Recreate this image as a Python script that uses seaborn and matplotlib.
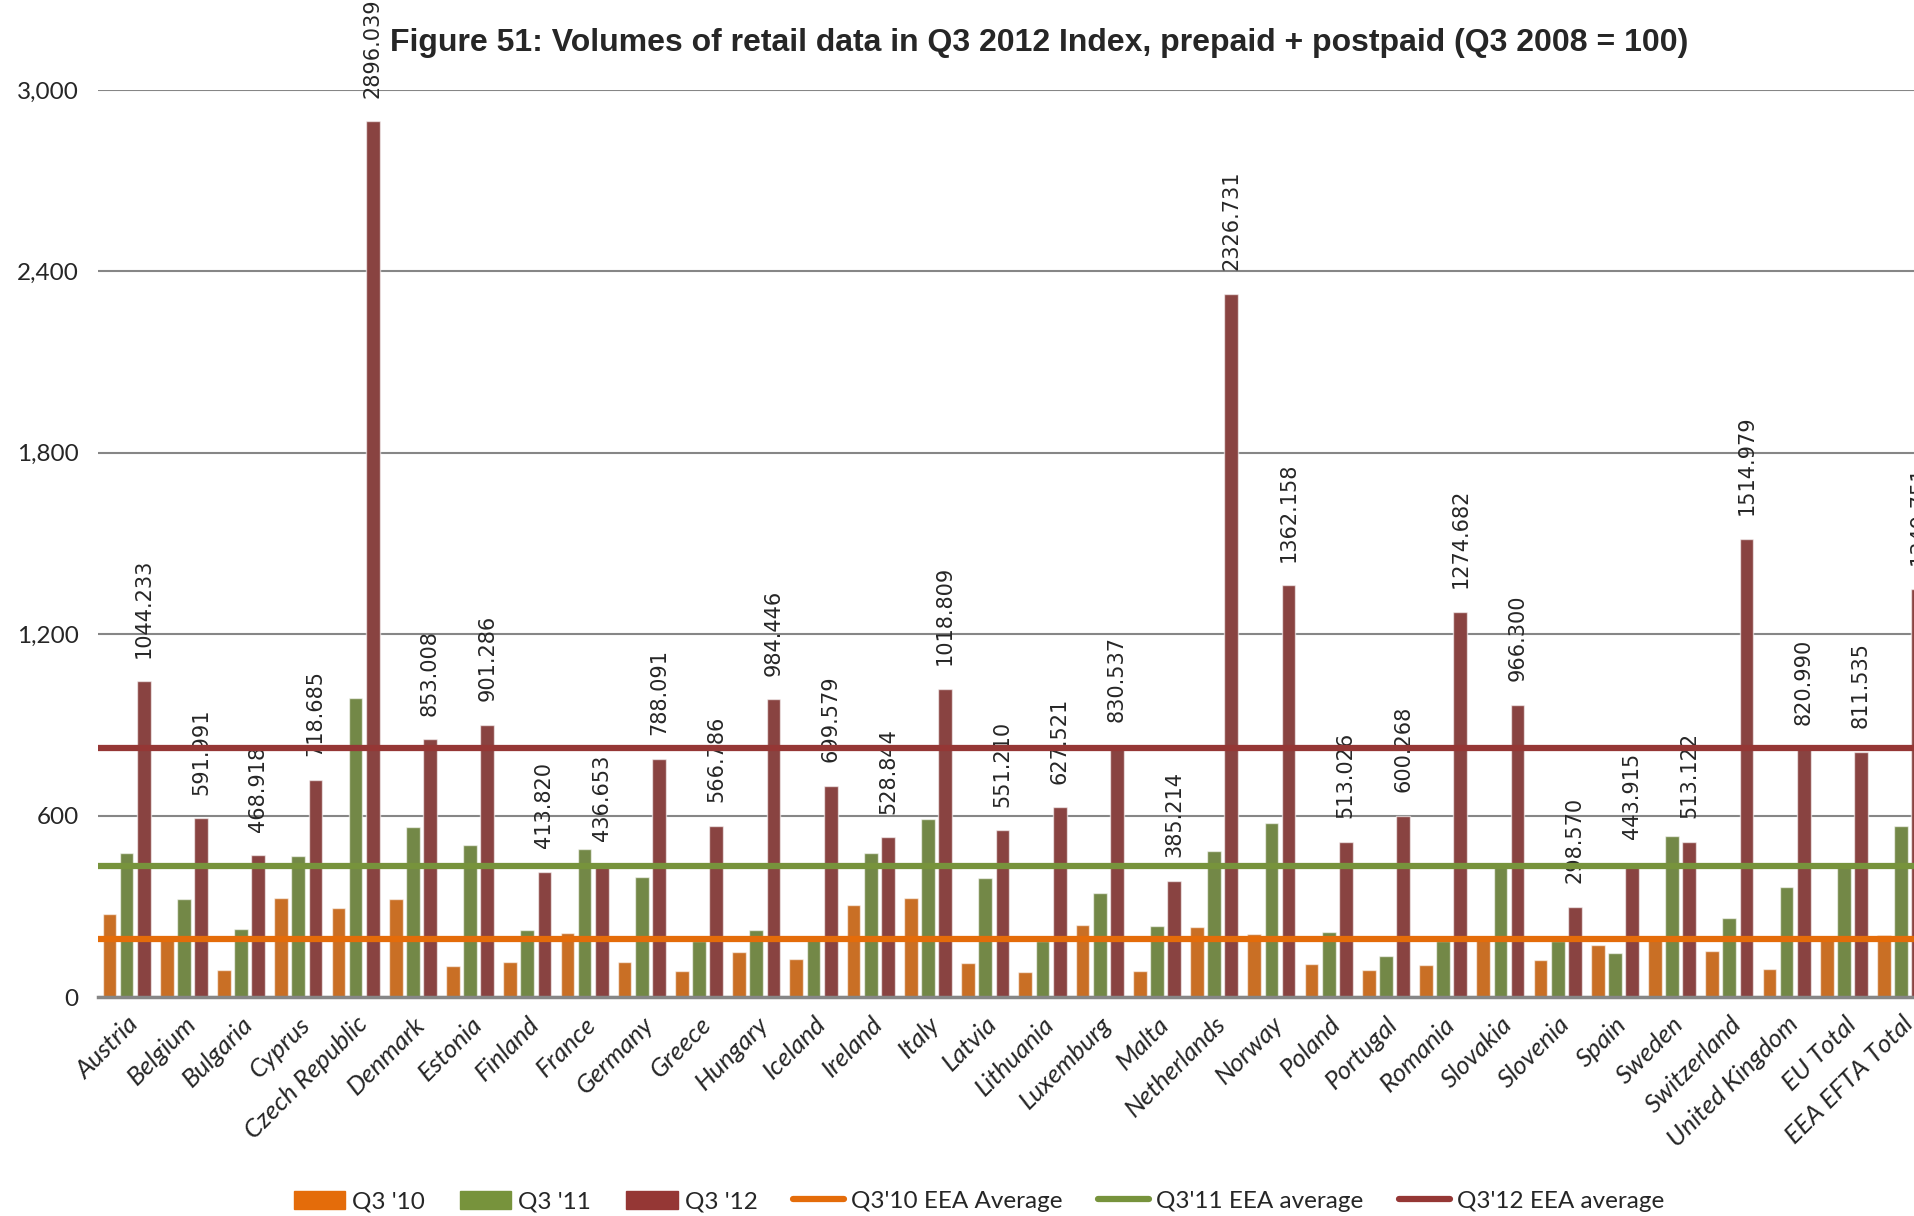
import pandas as pd
import matplotlib.pyplot as plt
import matplotlib.patches as mpatches
import matplotlib.lines as mlines
from matplotlib.ticker import FuncFormatter
import seaborn as sns

# Data (Q3 2008 = 100)
countries = ["Austria", "Belgium", "Bulgaria", "Cyprus", "Czech Republic", "Denmark",
             "Estonia", "Finland", "France", "Germany", "Greece", "Hungary", "Iceland",
             "Ireland", "Italy", "Latvia", "Lithuania", "Luxemburg", "Malta",
             "Netherlands", "Norway", "Poland", "Portugal", "Romania", "Slovakia",
             "Slovenia", "Spain", "Sweden", "Switzerland", "United Kingdom",
             "EU Total", "EEA EFTA Total"]
q3_10 = [275, 195, 90, 327, 294, 324, 102, 116, 213, 117, 85, 149, 126, 303, 329,
         113, 82, 239, 87, 231, 208, 110, 91, 106, 201, 123, 172, 191, 152, 92,
         191, 207]
q3_11 = [475, 323, 224, 466, 989, 561, 504, 222, 490, 396, 185, 223, 188, 476, 589,
         394, 185, 343, 234, 484, 575, 214, 136, 186, 434, 186, 145, 534, 261, 364,
         434, 567]
q3_12 = [1044.233, 591.991, 468.918, 718.685, 2896.039, 853.008, 901.286, 413.820,
         436.653, 788.091, 566.786, 984.446, 699.579, 528.844, 1018.809, 551.210,
         627.521, 830.537, 385.214, 2326.731, 1362.158, 513.026, 600.268, 1274.682,
         966.300, 298.570, 443.915, 513.122, 1514.979, 820.990, 811.535, 1349.751]
averages = [191, 434, 824]

series = ["Q3 '10", "Q3 '11", "Q3 '12"]
avg_labels = ["Q3'10 EEA Average", "Q3'11 EEA average", "Q3'12 EEA average"]
colors = ["#E46C0A", "#77933C", "#953735"]
y_ticks = [0, 600, 1200, 1800, 2400, 3000]
title = "Figure 51: Volumes of retail data in Q3 2012 Index, prepaid + postpaid (Q3 2008 = 100)"

# long table for seaborn
df = pd.DataFrame({
    "country": countries * 3,
    "series": [s for s in series for _ in countries],
    "value": q3_10 + q3_11 + q3_12,
})

sns.set_style("white")
plt.rcParams["font.family"] = ["Lato", "DejaVu Sans"]

fig = plt.figure(figsize=(19.14, 12.16), dpi=100)
ax = fig.add_axes([0.0512, 0.180, 0.957, 0.746])

sns.barplot(data=df, x="country", y="value", hue="series", palette=colors,
            width=0.9, gap=0.2, edgecolor=(1, 1, 1, 0.6), linewidth=1,
            legend=False, ax=ax, zorder=2)

# EEA average lines on top of the bars
for val, col in zip(averages, colors):
    ax.axhline(val, color=col, lw=4.5, zorder=4, solid_capstyle="butt")

# value labels above the Q3 '12 bars
for bar, v in zip(ax.containers[2], q3_12):
    ax.annotate(f"{v:.3f}", (bar.get_x() + bar.get_width() / 2, bar.get_height()),
                xytext=(0, 17), textcoords="offset points", rotation=90,
                ha="center", va="bottom", fontsize=15, family="DejaVu Sans",
                annotation_clip=False)

ax.set_xlim(-0.5, len(countries) - 0.5)
ax.set_ylim(0, 3000)
ax.set_yticks(y_ticks)
ax.yaxis.set_major_formatter(FuncFormatter(lambda v, p: f"{v:,.0f}"))
ax.grid(axis="y", color="#868686", lw=1.5, zorder=0)
ax.set_axisbelow(True)
for s in ["top", "right", "left"]:
    ax.spines[s].set_visible(False)
ax.spines["bottom"].set_color("#868686")
ax.spines["bottom"].set_linewidth(2.5)
ax.spines["bottom"].set_zorder(5)
ax.set_xlabel("")
ax.set_ylabel("")
ax.tick_params(axis="both", length=0)
ax.tick_params(axis="y", pad=14, labelsize=17.5)
ax.tick_params(axis="x", pad=11, labelsize=18.5)
for lab in ax.get_xticklabels():
    lab.set_rotation(45)
    lab.set_ha("right")
    lab.set_va("top")
    lab.set_rotation_mode("anchor")
    lab.set_style("italic")

fig.text(0.543, 0.965, title, ha="center", va="center", fontsize=23,
         weight="bold", family=["Liberation Sans", "DejaVu Sans"])

handles = [mpatches.Patch(color=c, label=s) for c, s in zip(colors, series)]
handles += [mlines.Line2D([], [], color=c, lw=4.5, label=l) for c, l in zip(colors, avg_labels)]
fig.legend(handles=handles, loc="center", bbox_to_anchor=(0.5115, 0.012), ncol=6,
           frameon=False, fontsize=17.5, handlelength=2.1, handleheight=0.75,
           columnspacing=1.45, handletextpad=0.3)

plt.savefig("out.png", dpi=100)
